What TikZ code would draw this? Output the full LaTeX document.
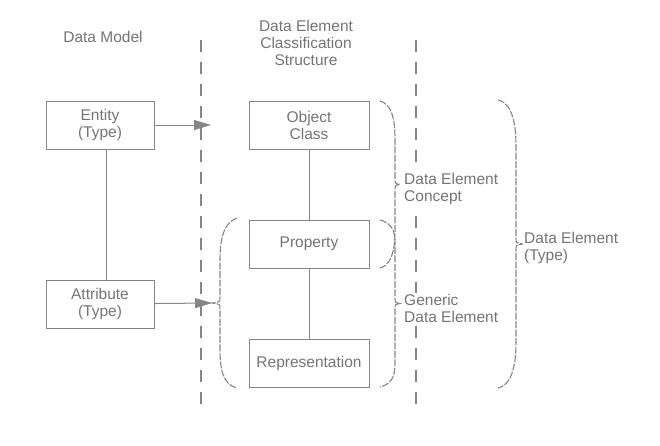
\documentclass[tikz,border=0pt]{standalone}
\usepackage{fontspec}
\setmainfont{Liberation Sans}
\usetikzlibrary{arrows.meta}
\definecolor{ln}{HTML}{858585}
\definecolor{tx}{HTML}{747474}
\tikzset{
  box/.style={draw=ln, line width=1pt, minimum width=108pt, minimum height=48pt, inner sep=0pt, text=tx, align=center, font=\fontsize{15.5}{17}\selectfont},
  lbl/.style={text=tx, align=left, anchor=west, inner sep=1pt, fill=white, font=\fontsize{15.5}{17}\selectfont},
  hdr/.style={text=tx, align=center, inner sep=0pt, font=\fontsize{15.5}{17}\selectfont},
  conn/.style={draw=ln, line width=1pt},
  arr/.style={draw=ln, line width=1pt, -{Triangle[length=17pt,width=10pt,fill=ln]}},
  sep/.style={draw=ln, line width=1.3pt, dash pattern=on 12pt off 10pt},
  brc/.style={draw=ln, line width=1.1pt, dash pattern=on 7pt off 1.5pt},
}
% right-facing brace: x0 ends, xl line, xt tip, top, bottom, end height
\newcommand{\myrbrace}[6]{%
  \pgfmathsetmacro{\ym}{(#4+#5)/2}%
  \draw[brc] (#1,#4) .. controls (#2,#4+4) and (#2,#4+#6-12) .. (#2,#4+#6)
    -- (#2,\ym-6) .. controls (#2,\ym-1) .. (#3,\ym)
    .. controls (#2,\ym+1) .. (#2,\ym+6)
    -- (#2,#5-#6) .. controls (#2,#5-#6+12) and (#2,#5-4) .. (#1,#5);}
\begin{document}
\begin{tikzpicture}[x=1pt,y=-1pt]
\useasboundingbox (0,0) rectangle (660,445);
% separators
\coordinate (s1t) at (201,40);
\coordinate (s1b) at (201,412);
\coordinate (s2t) at (416,40);
\coordinate (s2b) at (416,412);
\draw[sep] (s1t) -- (s1b);
\draw[sep] (s2t) -- (s2b);
% headers
\node[hdr] (dm) at (103,37) {Data Model};
\node[hdr] (decs) at (306,43) {Data Element\\Classification\\Structure};
% boxes
\node[box] (ent) at (100,125) {Entity\\(Type)};
\node[box] (att) at (100,304) {Attribute\\(Type)};
\node[box, minimum width=120pt] (obj) at (309,125) {Object\\Class};
\node[box, minimum width=120pt] (prop) at (309,244) {Property};
\node[box, minimum width=120pt] (rep) at (309,363) {Representation};
% connectors
\draw[conn] (ent.south -| 106,0) -- (att.north -| 106,0);
\draw[conn] (obj) -- (prop);
\draw[conn] (prop) -- (rep);
\coordinate (ea) at (211,125);
\coordinate (aa) at (212,303);
\draw[arr] (ent) -- (ea);
\draw[arr] (att) -- (aa);
% left brace
\draw[brc] (237,218) .. controls (221,224) and (220,245) .. (220,262)
  -- (220,297) .. controls (220,302) .. (212,303)
  .. controls (220,304) .. (220,309)
  -- (220,348) .. controls (220,368) and (222,384) .. (237,388);
% right braces
\myrbrace{380}{395}{400}{101}{268}{40}
\myrbrace{380}{395}{400}{220}{387}{27}
\myrbrace{498}{516}{523}{100}{388}{48}
% labels
\node[lbl] (l1) at (403,189) {Data Element\\Concept};
\node[lbl] (l2) at (403,308) {Generic\\Data Element};
\node[lbl] (l3) at (523,248) {Data Element\\(Type)};
\end{tikzpicture}
\end{document}
